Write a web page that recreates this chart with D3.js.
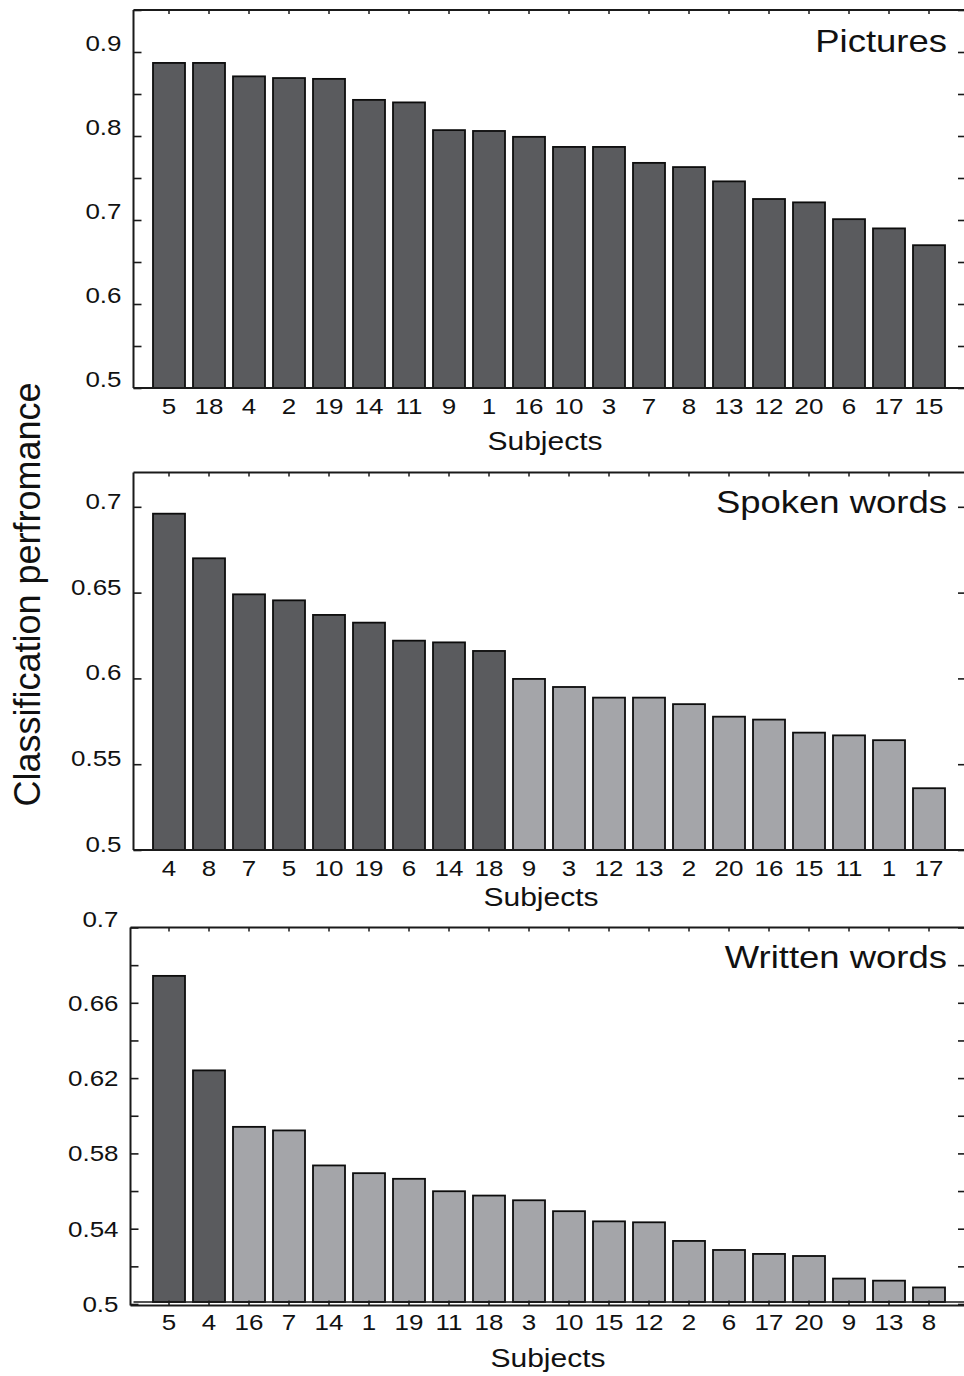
<!DOCTYPE html>
<html><head><meta charset="utf-8">
<script src="https://cdn.jsdelivr.net/npm/d3@7"></script>
<style>body{margin:0;background:#fff} svg{display:block}</style>
</head><body>
<svg id="c" width="964" height="1376"></svg>
<script>
// ---------- data ----------
const picturesSubjects = ["5","18","4","2","19","14","11","9","1","16","10","3","7","8","13","12","20","6","17","15"];
const picturesValues   = [0.887,0.887,0.871,0.869,0.868,0.843,0.840,0.807,0.806,0.799,0.787,0.787,0.768,0.763,0.746,0.725,0.721,0.701,0.690,0.670];
const picturesSignificant = [1,1,1,1,1,1,1,1,1,1,1,1,1,1,1,1,1,1,1,1];

const spokenSubjects = ["4","8","7","5","10","19","6","14","18","9","3","12","13","2","20","16","15","11","1","17"];
const spokenValues   = [0.696,0.670,0.649,0.6455,0.637,0.6325,0.622,0.621,0.616,0.5997,0.595,0.5888,0.5888,0.585,0.5777,0.576,0.5684,0.5668,0.564,0.536];
const spokenSignificant = [1,1,1,1,1,1,1,1,1,0,0,0,0,0,0,0,0,0,0,0];

const writtenSubjects = ["5","4","16","7","14","1","19","11","18","3","10","15","12","2","6","17","20","9","13","8"];
const writtenValues   = [0.6743,0.6241,0.5941,0.5922,0.5736,0.5695,0.5665,0.5599,0.5576,0.5551,0.5493,0.5439,0.5434,0.5335,0.5287,0.5266,0.5255,0.5135,0.5124,0.5088];
const writtenSignificant = [1,1,0,0,0,0,0,0,0,0,0,0,0,0,0,0,0,0,0,0];

const panelTitles = ["Pictures","Spoken words","Written words"];
const picturesTickLabels = ["0.5","0.6","0.7","0.8","0.9"];
const spokenTickLabels   = ["0.5","0.55","0.6","0.65","0.7"];
const writtenTickLabels  = ["0.5","0.54","0.58","0.62","0.66","0.7"];
const xAxisTitle = "Subjects";
const yAxisTitle = "Classification perfromance";

// ---------- drawing ----------
const svg = d3.select("#c");
const FONT = '"Liberation Sans", Arial, Helvetica, sans-serif';
const DARK = "#5a5b5e", LIGHT = "#a4a5a9", INK = "#1a1a1a";
const RIGHT_X = 966;

function panel(cfg) {
  const g = svg.append("g");
  const data = cfg.subjects.map((s, i) => ({s, v: cfg.values[i], sig: cfg.sig[i]}));
  const x = d3.scaleBand().domain(cfg.subjects).range([149, 949]).paddingInner(0.2).paddingOuter(0.1);
  const y = d3.scaleLinear().domain(cfg.domain).range([cfg.bottom, cfg.top]);
  const nT = Math.round((cfg.domain[1] - cfg.domain[0]) / cfg.step);
  const tickVals = d3.range(nT + 1).map(i => +(cfg.domain[0] + i * cfg.step).toFixed(3));
  const fmt = d => { const s = String(+d.toFixed(3)); return cfg.labels.includes(s) ? s : ""; };

  // bars
  g.selectAll("rect.bar").data(data).join("rect")
    .attr("class", "bar")
    .attr("x", d => x(d.s))
    .attr("width", x.bandwidth())
    .attr("y", d => y(d.v))
    .attr("height", d => y(cfg.domain[0]) - cfg.barLift - y(d.v))
    .attr("fill", d => d.sig ? DARK : LIGHT)
    .attr("stroke", "#0d0d0d").attr("stroke-width", 1.8);

  // left axis (ticks inward)
  const la = g.append("g").attr("transform", `translate(${cfg.left},0)`)
    .call(d3.axisLeft(y).tickValues(tickVals).tickFormat(fmt).tickSizeInner(-8).tickSizeOuter(0).tickPadding(12));
  la.select(".domain").remove();
  la.selectAll(".tick line").attr("stroke", INK).attr("stroke-width", 1.6);
  la.selectAll(".tick text")
    .attr("x", null).attr("dy", null)
    .attr("transform", d => `translate(-12, ${7.5 + (d === cfg.domain[1] ? -9 : cfg.labelDy)}) scale(1.18,1)`)
    .attr("font-family", FONT).attr("font-size", 22).attr("fill", "#111");

  // right axis (ticks inward, no labels)
  const ra = g.append("g").attr("transform", `translate(${RIGHT_X},0)`)
    .call(d3.axisRight(y).tickValues(tickVals).tickFormat("").tickSizeInner(-8).tickSizeOuter(0));
  ra.select(".domain").remove();
  ra.selectAll(".tick line").attr("stroke", INK).attr("stroke-width", 1.6);

  // top axis ticks at bar centres
  const ta = g.append("g").attr("transform", `translate(0,${cfg.top})`)
    .call(d3.axisTop(x).tickFormat("").tickSizeInner(-4).tickSizeOuter(0));
  ta.select(".domain").remove();
  ta.selectAll(".tick line").attr("stroke", INK).attr("stroke-width", 1.5);

  // frame
  g.append("line").attr("x1", cfg.left).attr("x2", RIGHT_X).attr("y1", cfg.top).attr("y2", cfg.top)
    .attr("stroke", INK).attr("stroke-width", 2);
  g.append("line").attr("x1", cfg.left).attr("x2", cfg.left).attr("y1", cfg.top).attr("y2", cfg.bottom + cfg.axisDrop)
    .attr("stroke", INK).attr("stroke-width", 2);

  // bottom axis with subject labels
  const ba = g.append("g").attr("transform", `translate(0,${cfg.bottom + cfg.axisDrop})`)
    .call(d3.axisBottom(x).tickSizeInner(cfg.bottomTicks ? -5 : 0).tickSizeOuter(0).tickPadding(0));
  ba.select(".domain").remove();
  ba.selectAll(".tick line").attr("stroke", INK).attr("stroke-width", 1.5);
  ba.selectAll(".tick text")
    .attr("y", null).attr("dy", null)
    .attr("transform", `translate(0, ${25.5 - cfg.axisDrop}) scale(1.18,1)`)
    .attr("font-family", FONT).attr("font-size", 22).attr("fill", "#111");
  g.append("line").attr("x1", cfg.left).attr("x2", RIGHT_X)
    .attr("y1", cfg.bottom + cfg.axisDrop).attr("y2", cfg.bottom + cfg.axisDrop)
    .attr("stroke", INK).attr("stroke-width", 2);
  if (cfg.barLift) {
    g.append("line").attr("x1", cfg.left + 3).attr("x2", RIGHT_X)
      .attr("y1", cfg.bottom - cfg.barLift).attr("y2", cfg.bottom - cfg.barLift)
      .attr("stroke", INK).attr("stroke-width", 1.4);
  }

  // panel title
  g.append("text").attr("transform", `translate(947, ${cfg.titleY}) scale(1.14,1)`)
    .attr("text-anchor", "end").attr("font-family", FONT).attr("font-size", 32).attr("fill", "#111")
    .text(cfg.title);

  // x-axis title
  g.append("text").attr("transform", `translate(${cfg.subjX}, ${cfg.subjY}) scale(1.2,1)`)
    .attr("text-anchor", "middle").attr("font-family", FONT).attr("font-size", 25).attr("fill", "#111")
    .text(xAxisTitle);
}

panel({subjects: picturesSubjects, values: picturesValues, sig: picturesSignificant, title: panelTitles[0],
  labels: picturesTickLabels, domain: [0.5, 0.95], step: 0.05, top: 10, bottom: 388, left: 133.5,
  labelDy: -9, barLift: 0, axisDrop: 0, bottomTicks: false, titleY: 52, subjX: 545, subjY: 450});

panel({subjects: spokenSubjects, values: spokenValues, sig: spokenSignificant, title: panelTitles[1],
  labels: spokenTickLabels, domain: [0.5, 0.72], step: 0.05, top: 472.5, bottom: 850, left: 133.5,
  labelDy: -6, barLift: 0, axisDrop: 0, bottomTicks: false, titleY: 513, subjX: 541, subjY: 906});

panel({subjects: writtenSubjects, values: writtenValues, sig: writtenSignificant, title: panelTitles[2],
  labels: writtenTickLabels, domain: [0.5, 0.7], step: 0.02, top: 927.5, bottom: 1304, left: 130.5,
  labelDy: 0, barLift: 2, axisDrop: 1.5, bottomTicks: true, titleY: 968, subjX: 548, subjY: 1367});

// y-axis title
svg.append("text").attr("transform", "translate(40, 594.5) rotate(-90)")
  .attr("text-anchor", "middle").attr("font-family", FONT).attr("font-size", 36).attr("fill", "#111")
  .text(yAxisTitle);
</script>
</body></html>
